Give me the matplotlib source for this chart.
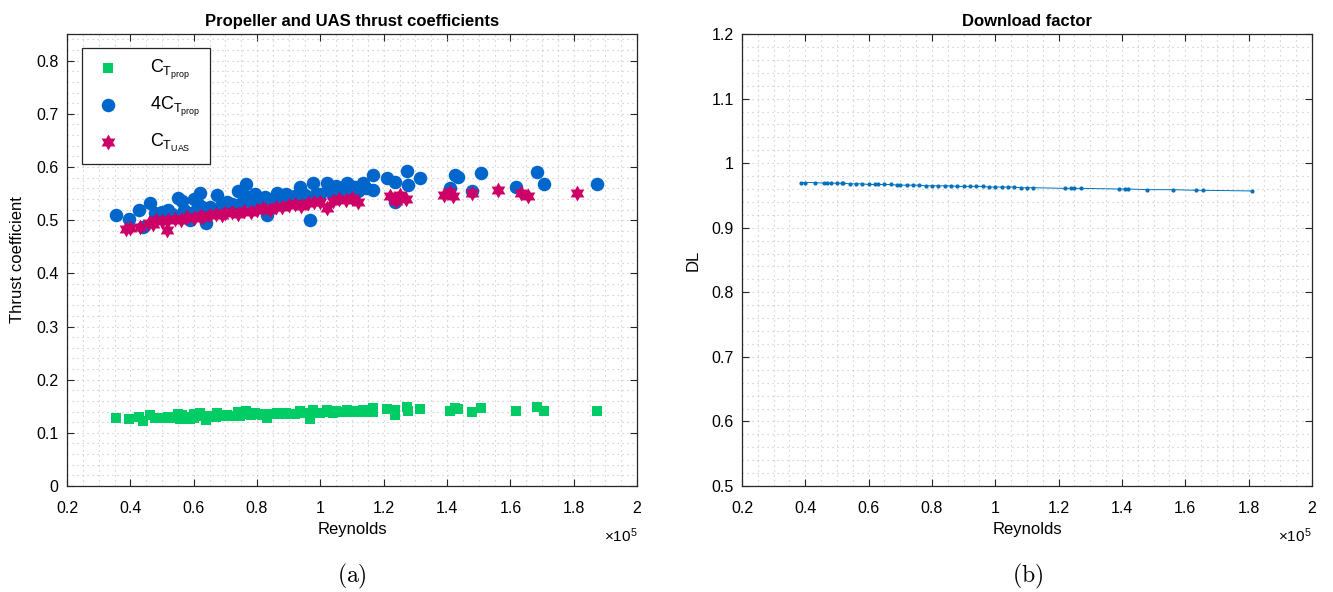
import numpy as np
import matplotlib.pyplot as plt
from matplotlib.path import Path
from matplotlib.ticker import MultipleLocator, FuncFormatter

plt.rcParams['font.family'] = ['Liberation Sans', 'DejaVu Sans']
plt.rcParams['mathtext.fontset'] = 'custom'
plt.rcParams['mathtext.rm'] = 'Liberation Sans'
plt.rcParams['mathtext.it'] = 'Liberation Sans'

# Reynolds number (x 1e5) of the propeller tests, and 4*C_T of the propeller
re_prop = [0.355, 0.396, 0.427, 0.440, 0.462, 0.478, 0.519, 0.551, 0.563, 0.557,
           0.588, 0.620, 0.626, 0.639, 0.674, 0.683, 0.705, 0.740, 0.765, 0.768,
           0.800, 0.825, 0.832, 0.863, 0.888, 0.936, 0.977, 0.967, 1.021, 1.040,
           1.084, 1.109, 1.090, 1.135, 1.166, 1.166, 1.211, 1.236, 1.274, 1.277,
           1.315, 1.236, 1.425, 1.435, 1.409, 1.479, 1.507, 1.618, 1.684, 1.706,
           1.874,
           0.500, 0.530, 0.570, 0.600, 0.615, 0.650, 0.670, 0.700, 0.720, 0.745,
           0.780, 0.815, 0.850, 0.870, 0.900, 0.920, 0.950, 0.985, 1.000, 1.030,
           1.060, 1.090, 1.120, 1.145, 0.600, 0.795, 0.890, 1.050]
ct4_prop = [0.510, 0.503, 0.520, 0.488, 0.533, 0.514, 0.520, 0.542, 0.536, 0.506,
            0.501, 0.552, 0.525, 0.495, 0.548, 0.525, 0.535, 0.555, 0.568, 0.544,
            0.542, 0.544, 0.510, 0.552, 0.548, 0.563, 0.570, 0.501, 0.570, 0.552,
            0.570, 0.563, 0.567, 0.570, 0.584, 0.557, 0.580, 0.572, 0.593, 0.567,
            0.580, 0.535, 0.585, 0.582, 0.561, 0.555, 0.588, 0.563, 0.591, 0.568,
            0.568,
            0.515, 0.512, 0.520, 0.515, 0.530, 0.525, 0.520, 0.525, 0.530, 0.530,
            0.535, 0.535, 0.540, 0.540, 0.545, 0.545, 0.548, 0.550, 0.550, 0.555,
            0.555, 0.560, 0.555, 0.560, 0.540, 0.550, 0.550, 0.565]
ct_prop = [v / 4 for v in ct4_prop]

# Reynolds number (x 1e5) of the UAS, its thrust coefficient and download factor
re_uas = [0.385, 0.400, 0.430, 0.460, 0.470, 0.480, 0.500, 0.515, 0.520, 0.540,
          0.560, 0.580, 0.600, 0.620, 0.630, 0.650, 0.670, 0.690, 0.700, 0.720,
          0.740, 0.760, 0.780, 0.800, 0.820, 0.840, 0.860, 0.880, 0.900, 0.920,
          0.940, 0.960, 0.980, 1.000, 1.020, 1.040, 1.060, 1.080, 1.100, 1.120,
          1.220, 1.240, 1.250, 1.270, 1.390, 1.410, 1.420, 1.480, 1.560, 1.635,
          1.655, 1.810]
ct_uas = [0.484, 0.486, 0.488, 0.495, 0.492, 0.500, 0.498, 0.481, 0.500, 0.502,
          0.500, 0.505, 0.504, 0.508, 0.505, 0.510, 0.512, 0.510, 0.514, 0.515,
          0.512, 0.518, 0.516, 0.520, 0.522, 0.520, 0.525, 0.524, 0.528, 0.530,
          0.526, 0.532, 0.535, 0.534, 0.522, 0.536, 0.540, 0.538, 0.541, 0.535,
          0.545, 0.536, 0.548, 0.540, 0.548, 0.553, 0.545, 0.551, 0.557, 0.551,
          0.546, 0.551]
dl = [0.970, 0.970, 0.970, 0.969, 0.969, 0.969, 0.969, 0.969, 0.969, 0.968,
      0.968, 0.968, 0.967, 0.967, 0.967, 0.967, 0.967, 0.966, 0.966, 0.966,
      0.966, 0.966, 0.965, 0.965, 0.965, 0.965, 0.965, 0.964, 0.964, 0.964,
      0.964, 0.964, 0.963, 0.963, 0.963, 0.963, 0.963, 0.962, 0.962, 0.962,
      0.961, 0.961, 0.961, 0.961, 0.960, 0.960, 0.960, 0.959, 0.959, 0.958,
      0.958, 0.957]

green = (0.0, 0.8, 0.4)
blue = (0.0, 0.4, 0.8)
pink = (0.8, 0.0, 0.4)

# six-pointed star like MATLAB's hexagram
ang = np.deg2rad(90 + 30 * np.arange(12))
rad = np.where(np.arange(12) % 2 == 0, 1.0, 0.577)
verts = np.column_stack([rad * np.cos(ang), rad * np.sin(ang)])
hexagram = Path(np.vstack([verts, verts[:1]]), closed=True)

fig = plt.figure(figsize=(13.33, 5.92), dpi=100)
ax1 = fig.add_axes([0.0503, 0.179, 0.4276, 0.7635])
ax2 = fig.add_axes([0.5566, 0.179, 0.4276, 0.7635])

fmt = FuncFormatter(lambda v, p: f'{round(v, 2):g}')


def style(ax):
    ax.set_xlim(0.2, 2.0)
    ax.xaxis.set_major_locator(MultipleLocator(0.2))
    ax.xaxis.set_minor_locator(MultipleLocator(0.05))
    ax.yaxis.set_major_locator(MultipleLocator(0.1))
    ax.yaxis.set_minor_locator(MultipleLocator(0.02))
    ax.xaxis.set_major_formatter(fmt)
    ax.yaxis.set_major_formatter(fmt)
    ax.tick_params(which='major', direction='in', length=5, width=0.8,
                   top=True, right=True, labelsize=11.5, color='0.15')
    ax.tick_params(axis='x', pad=11)
    ax.tick_params(axis='y', pad=6)
    ax.tick_params(which='minor', length=0, top=True, right=True)
    ax.grid(which='both', linestyle=(0, (1, 3.5)), color='0.76', linewidth=0.8)
    ax.set_axisbelow(True)
    for s in ax.spines.values():
        s.set_color('0.15')
        s.set_linewidth(0.9)
    ax.set_xlabel('Reynolds', fontsize=12, labelpad=4)
    ax.text(1.0, -0.09, r'$\times10^5$', transform=ax.transAxes,
            ha='right', va='top', fontsize=11)


ax1.scatter(re_prop, ct_prop, marker='s', s=50, color=green, lw=0,
            label=r'$C_{T_{prop}}$', zorder=3)
ax1.scatter(re_prop, ct4_prop, marker='o', s=95, color=blue, lw=0,
            label=r'$4C_{T_{prop}}$', zorder=3)
ax1.scatter(re_uas, ct_uas, marker=hexagram, s=130, color=pink, lw=0,
            label=r'$C_{T_{UAS}}$', zorder=4)
style(ax1)
ax1.set_ylim(0, 0.85)
ax1.set_ylabel('Thrust coefficient', fontsize=12, labelpad=8)
ax1.set_title('Propeller and UAS thrust coefficients', fontsize=12,
              fontweight='bold', pad=6)
leg = ax1.legend(loc='upper left', bbox_to_anchor=(0.026, 0.969),
                 borderaxespad=0, fontsize=13, labelspacing=0.7,
                 handletextpad=1.4, borderpad=0.55, fancybox=False,
                 framealpha=1, edgecolor='0.15', handlelength=1.8)
leg.get_frame().set_linewidth(0.9)

ax2.plot(re_uas, dl, '.-', color=(0.0, 0.447, 0.741), lw=0.7, ms=4)
style(ax2)
ax2.set_ylim(0.5, 1.2)
ax2.set_ylabel('DL', fontsize=12, labelpad=8)
ax2.set_title('Download factor', fontsize=12, fontweight='bold', pad=6)

fig.text(352 / 1333, 1 - 576 / 592, r'$\mathrm{(a)}$', math_fontfamily='cm',
         fontsize=17, ha='center', va='center')
fig.text(1028 / 1333, 1 - 576 / 592, r'$\mathrm{(b)}$', math_fontfamily='cm',
         fontsize=17, ha='center', va='center')

fig.savefig('out.png', dpi=100)
